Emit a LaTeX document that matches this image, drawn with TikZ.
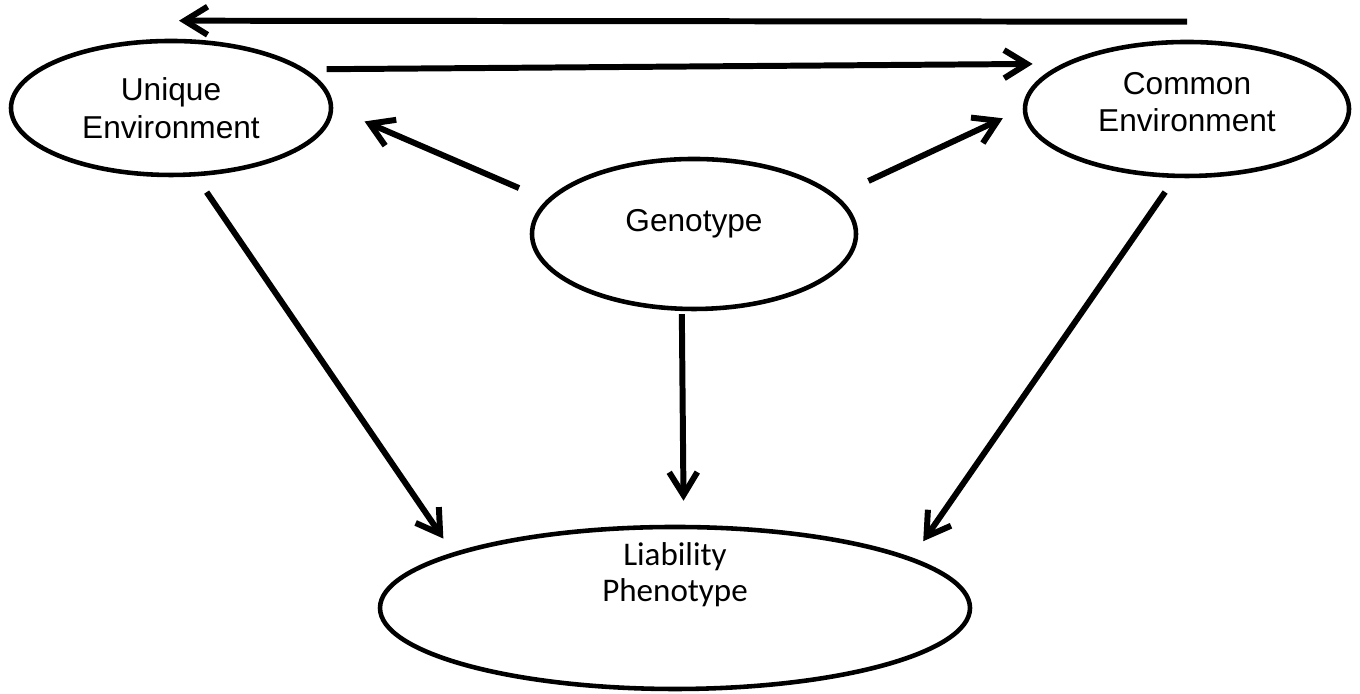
\documentclass[tikz,border=0pt]{standalone}
\usepackage{fontspec}
\setmainfont{Liberation Sans}
\newfontfamily\calfont{Carlito}
\usetikzlibrary{arrows.meta,shapes.geometric}

\begin{document}
\begin{tikzpicture}[
    oval/.style={ellipse, draw, line width=1.3pt, inner sep=0pt, align=center,
      font=\fontsize{9}{10.8}\selectfont},
    >={Straight Barb[length=6.5pt,width=8pt]}, line width=1.7pt]
  \useasboundingbox (0,0) rectangle (13.6,6.94);

  \node[oval, minimum width=3.2cm, minimum height=1.34cm] (ue) at (1.71,5.86) {Unique\\Environment};
  \node[oval, minimum width=3.24cm, minimum height=1.34cm, text depth=1.4mm] (ce) at (11.87,5.85) {Common\\Environment};
  \node[oval, minimum width=3.24cm, minimum height=1.5cm, text height=1mm, text depth=1.4mm] (ge) at (6.94,4.60) {Genotype};
  \node[oval, minimum width=5.9cm, minimum height=1.62cm, text height=1mm, text depth=2.2mm,
    font=\calfont\fontsize{9.4}{10.5}\selectfont] (lp) at (6.75,0.86) {Liability\\Phenotype};

  \coordinate (tr) at ([yshift=1.8mm]ce.north);
  \coordinate (tl) at ([xshift=0.8mm,yshift=1.8mm]ue.north);

  \path[->]
  (tr) edge (tl)
  (ue.16.7) edge[shorten <=2.1mm, shorten >=3mm] (ce.160.2)
  (ge.167.6) edge[shorten <=3mm, shorten >=3.4mm] (ue.east)
  (ge.15.1) edge[shorten <=3.5mm, shorten >=2.2mm] (ce.west)
  (ue.-70.7) edge[shorten <=1.9mm, shorten >=1.7mm] (lp.166.1)
  (ge.261.6) edge[shorten <=0.3mm, shorten >=2.4mm] (lp.84.4)
  (ce.-100.3) edge[shorten <=1.7mm, shorten >=2mm] (lp.12)
  ;
\end{tikzpicture}
\end{document}
